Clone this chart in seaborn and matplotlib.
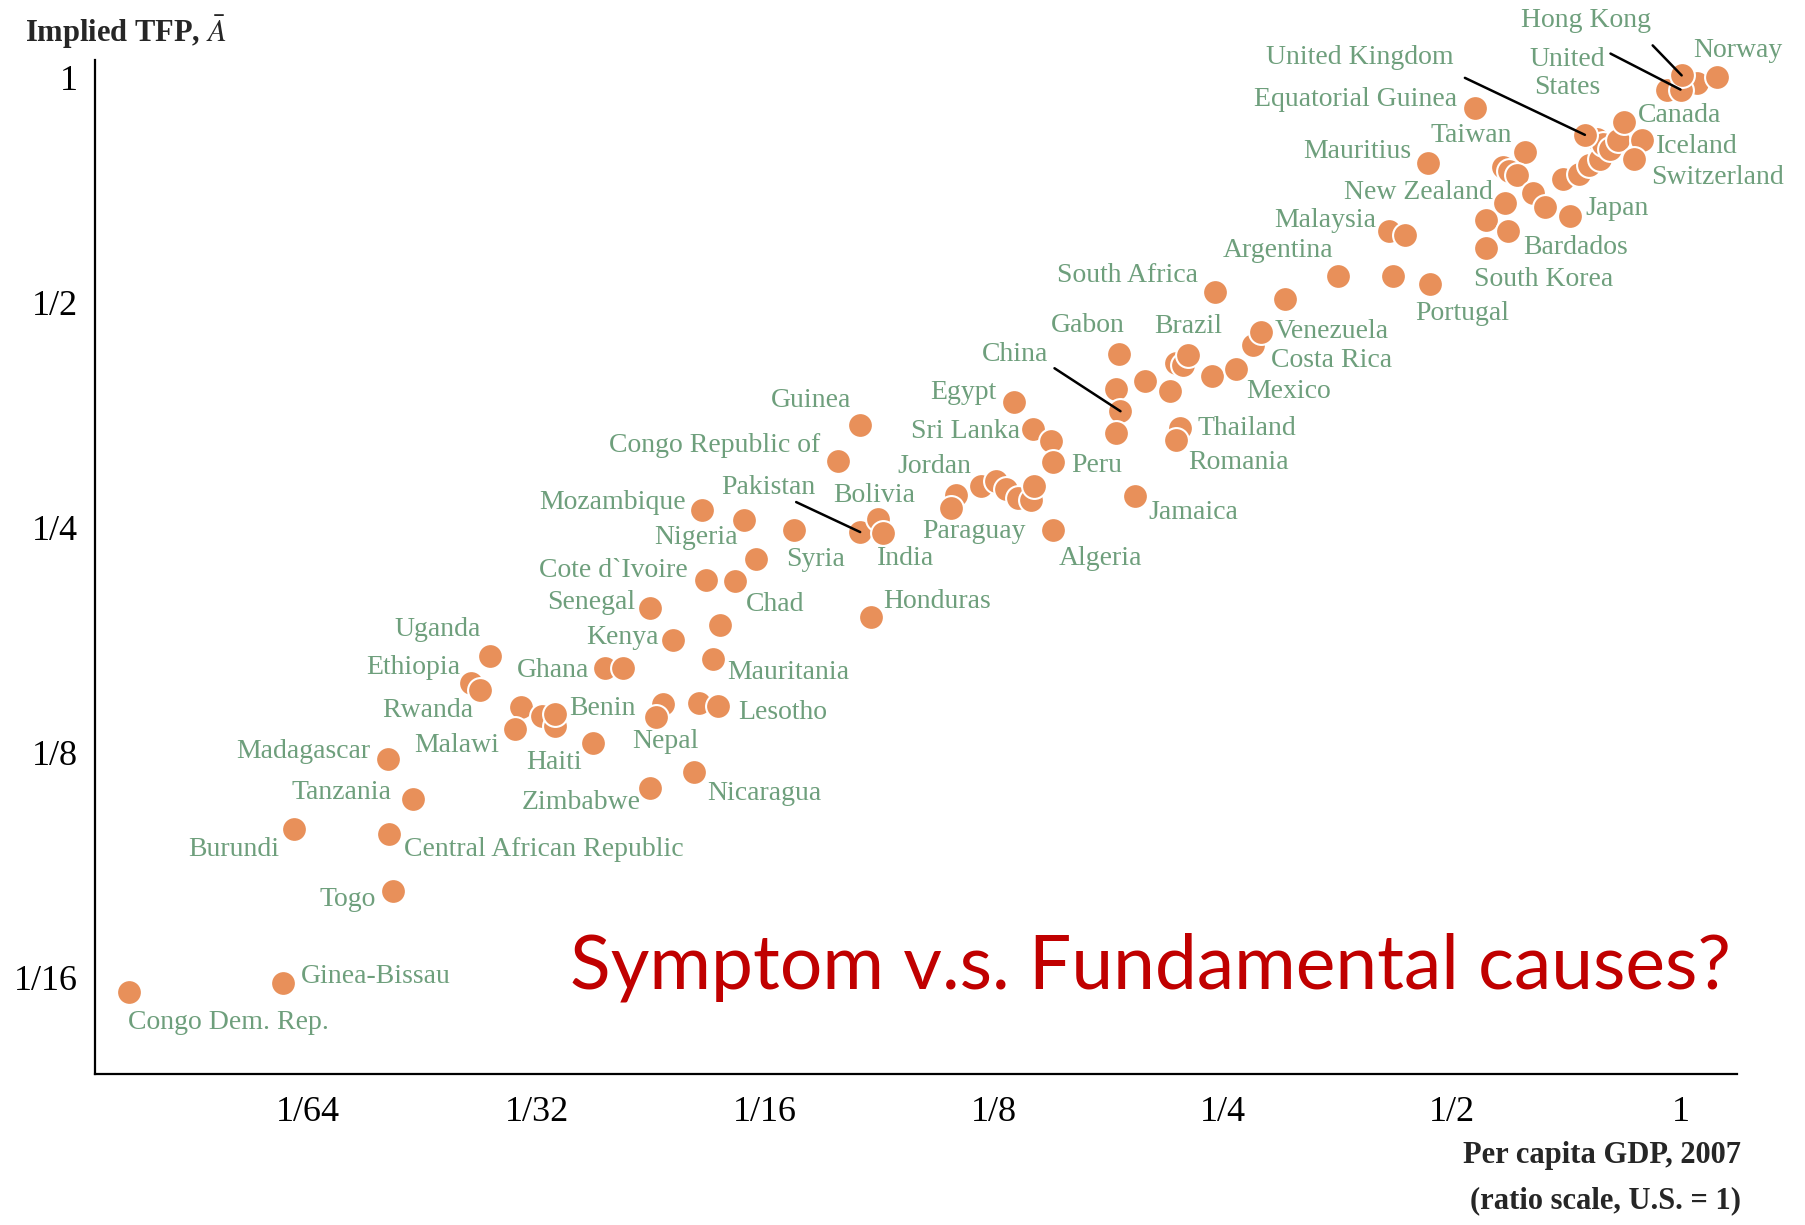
import matplotlib
matplotlib.use("Agg")
import matplotlib.pyplot as plt
from matplotlib.ticker import NullLocator
import seaborn as sns
import pandas as pd

# Per capita GDP 2007 (US = 1) and implied TFP
country = [
    "Congo Dem. Rep.", "Ginea-Bissau", "Burundi", "Togo", "Central African Republic",
    "Tanzania", "Madagascar", "Uganda", "Ethiopia", "Rwanda",
    "", "Malawi", "", "", "Benin",
    "Haiti", "Ghana", "", "Kenya", "Senegal",
    "", "Nepal", "", "Lesotho", "Zimbabwe",
    "Nicaragua", "Mauritania", "", "Cote d`Ivoire", "Chad",
    "", "Nigeria", "Mozambique", "Syria", "Pakistan",
    "Bolivia", "India", "Congo Republic of", "Guinea", "Honduras",
    "Egypt", "Sri Lanka", "", "Peru", "Algeria",
    "", "Paraguay", "Jordan", "", "",
    "", "", "", "Jamaica", "Gabon",
    "", "", "China", "", "",
    "", "", "Brazil", "", "Mexico",
    "Costa Rica", "Venezuela", "Thailand", "Romania", "South Africa",
    "", "Argentina", "", "Portugal", "Malaysia",
    "", "Mauritius", "Equatorial Guinea", "Taiwan", "",
    "New Zealand", "", "", "", "Japan",
    "", "", "Bardados", "South Korea", "",
    "", "", "", "", "",
    "", "", "United Kingdom", "Canada", "Iceland",
    "Switzerland", "", "", "United States", "Hong Kong",
    "Norway",
]
gdp = [
    0.0091, 0.0145, 0.0150, 0.0202, 0.0200,
    0.0215, 0.0199, 0.0271, 0.0256, 0.0263,
    0.0298, 0.0293, 0.0318, 0.0330, 0.0330,
    0.0371, 0.0384, 0.0406, 0.0473, 0.0441,
    0.0458, 0.0449, 0.0511, 0.0541, 0.0441,
    0.0503, 0.0534, 0.0544, 0.0522, 0.0570,
    0.0607, 0.0586, 0.0516, 0.0682, 0.0833,
    0.0880, 0.0893, 0.0778, 0.0832, 0.0860,
    0.1327, 0.1408, 0.1484, 0.1493, 0.1493,
    0.1114, 0.1097, 0.1202, 0.1258, 0.1297,
    0.1343, 0.1399, 0.1412, 0.1914, 0.1825,
    0.1806, 0.1972, 0.1833, 0.1806, 0.2127,
    0.2171, 0.2216, 0.2250, 0.2415, 0.2599,
    0.2739, 0.2802, 0.2193, 0.2171, 0.2442,
    0.3019, 0.3545, 0.4190, 0.4678, 0.4135,
    0.4335, 0.4652, 0.5366, 0.6246, 0.5839,
    0.5950, 0.6088, 0.6391, 0.6625, 0.7145,
    0.5876, 0.5552, 0.5921, 0.5552, 0.7012,
    0.7356, 0.7590, 0.7830, 0.7755, 0.7912,
    0.8083, 0.8264, 0.7485, 0.8438, 0.8895,
    0.8682, 0.9592, 1.0500, 1.0000, 1.0035,
    1.1180,
]
tfp = [
    0.0597, 0.0614, 0.0985, 0.0815, 0.0970,
    0.1083, 0.1222, 0.1683, 0.1548, 0.1513,
    0.1436, 0.1341, 0.1397, 0.1355, 0.1404,
    0.1286, 0.1621, 0.1621, 0.1768, 0.1949,
    0.1448, 0.1394, 0.1455, 0.1440, 0.1120,
    0.1175, 0.1663, 0.1852, 0.2127, 0.2117,
    0.2263, 0.2558, 0.2639, 0.2481, 0.2462,
    0.2561, 0.2455, 0.3061, 0.3422, 0.1896,
    0.3680, 0.3384, 0.3256, 0.3054, 0.2481,
    0.2763, 0.2652, 0.2836, 0.2880, 0.2807,
    0.2736, 0.2721, 0.2836, 0.2749, 0.4266,
    0.3826, 0.3918, 0.3572, 0.3340, 0.3800,
    0.4144, 0.4124, 0.4251, 0.3978, 0.4070,
    0.4377, 0.4560, 0.3392, 0.3274, 0.5151,
    0.5052, 0.5423, 0.5419, 0.5293, 0.6229,
    0.6152, 0.7668, 0.9087, 0.7945, 0.7584,
    0.7480, 0.7397, 0.7003, 0.6699, 0.6526,
    0.6793, 0.6445, 0.6229, 0.5897, 0.7304,
    0.7423, 0.7626, 0.7760, 0.8270, 0.8140,
    0.8011, 0.8230, 0.8368, 0.8694, 0.8242,
    0.7760, 0.9620, 0.9820, 0.9620, 1.0050,
    1.0000,
]

x_ticks = [1/64, 1/32, 1/16, 1/8, 1/4, 1/2, 1]
x_tick_labels = ["1/64", "1/32", "1/16", "1/8", "1/4", "1/2", "1"]
y_ticks = [1/16, 1/8, 1/4, 1/2, 1]
y_tick_labels = ["1/16", "1/8", "1/4", "1/2", "1"]

# label placement: offset in pixels from the dot, horizontal alignment
label_pos = {
    "Congo Dem. Rep.": (-1, -30, "left"),
    "Ginea-Bissau": (18, 6, "left"),
    "Burundi": (-15, -20, "right"),
    "Togo": (-17, -8, "right"),
    "Central African Republic": (15, -15, "left"),
    "Tanzania": (-22, 6, "right"),
    "Madagascar": (-17, 8, "right"),
    "Uganda": (-9, 26, "right"),
    "Ethiopia": (-10, 15, "right"),
    "Rwanda": (-6, -20, "right"),
    "Malawi": (-16, -16, "right"),
    "Ghana": (-15, -3, "right"),
    "Benin": (15, 6, "left"),
    "Haiti": (-11, -20, "right"),
    "Zimbabwe": (-10, -15, "right"),
    "Nepal": (9, -25, "center"),
    "Kenya": (-15, 2, "right"),
    "Senegal": (-15, 5, "right"),
    "Nicaragua": (14, -21, "left"),
    "Mauritania": (14, -13, "left"),
    "Lesotho": (20, -6, "left"),
    "Chad": (11, -23, "left"),
    "Cote d`Ivoire": (-18, 9, "right"),
    "Nigeria": (-6, -18, "right"),
    "Mozambique": (-16, 7, "right"),
    "Pakistan": (-45, 45, "right"),
    "Syria": (-8, -30, "left"),
    "Bolivia": (-45, 24, "left"),
    "India": (-6, -26, "left"),
    "Congo Republic of": (-17, 16, "right"),
    "Guinea": (-9, 25, "right"),
    "Honduras": (13, 15, "left"),
    "Egypt": (-17, 9, "right"),
    "Sri Lanka": (-13, -3, "right"),
    "Jordan": (-10, 20, "right"),
    "Paraguay": (-29, -24, "left"),
    "Peru": (18, -3, "left"),
    "Algeria": (6, -29, "left"),
    "Jamaica": (14, -16, "left"),
    "China": (-72, 57, "right"),
    "Gabon": (6, 28, "right"),
    "Brazil": (0, 28, "center"),
    "Thailand": (18, 0, "left"),
    "Romania": (12, -23, "left"),
    "Mexico": (10, -23, "left"),
    "Costa Rica": (18, -15, "left"),
    "Venezuela": (14, 0, "left"),
    "South Africa": (-17, 17, "right"),
    "Argentina": (-5, 25, "right"),
    "Portugal": (-15, -30, "left"),
    "Malaysia": (-13, 10, "right"),
    "Mauritius": (-17, 12, "right"),
    "Equatorial Guinea": (-18, 9, "right"),
    "United Kingdom": (-131, 77, "right"),
    "Taiwan": (-13, 16, "right"),
    "New Zealand": (-16, -21, "right"),
    "Japan": (16, 7, "left"),
    "Bardados": (16, -17, "left"),
    "South Korea": (-12, -31, "left"),
    "Canada": (13, 7, "left"),
    "Iceland": (14, -7, "left"),
    "Switzerland": (17, -18, "left"),
    "Hong Kong": (-31, 55, "right"),
    "United States": (-113, 16, "center"),
    "Norway": (-24, 27, "left"),
}
# leader lines: start of the line, in pixels from the dot
leaders = {
    "United Kingdom": (-120, 57),
    "United States": (-70, 36),
    "Hong Kong": (-29, 30),
    "China": (-66, 43),
    "Pakistan": (-64, 30),
}

DOT = "#E8905A"
GREEN = "#6E9F7C"

sns.set_style("white")
plt.rcParams["font.family"] = ["Liberation Serif", "DejaVu Serif"]
plt.rcParams["mathtext.fontset"] = "stix"

df = pd.DataFrame({"country": country, "gdp": gdp, "tfp": tfp})

fig = plt.figure(figsize=(18.06, 12.25), dpi=100)
ax = fig.add_axes([0.0526, 0.1233, 0.9092, 0.8278])
sns.scatterplot(data=df, x="gdp", y="tfp", ax=ax, s=320, color=DOT,
                edgecolor="white", linewidth=1.5, zorder=3)

ax.set_xscale("log", base=2)
ax.set_yscale("log", base=2)
ax.set_xlim(2 ** -6.93, 2 ** 0.247)
ax.set_ylim(2 ** -4.43, 2 ** 0.076)
ax.set_xticks(x_ticks, x_tick_labels)
ax.set_yticks(y_ticks, y_tick_labels)
ax.xaxis.set_minor_locator(NullLocator())
ax.yaxis.set_minor_locator(NullLocator())
ax.set_xlabel("")
ax.set_ylabel("")

for side in ["top", "right"]:
    ax.spines[side].set_visible(False)
for side in ["left", "bottom"]:
    ax.spines[side].set_color("black")
    ax.spines[side].set_linewidth(1.6)
ax.tick_params(axis="both", direction="in", length=17, width=1.5,
               labelsize=26, colors="black")
ax.tick_params(axis="x", pad=16)
ax.tick_params(axis="y", pad=12)

for name, (dx, dy, ha) in label_pos.items():
    row = df[df["country"] == name].iloc[0]
    text = "United\nStates" if name == "United States" else name
    ax.annotate(text, (row["gdp"], row["tfp"]), xytext=(dx, dy),
                textcoords="offset pixels", ha=ha, va="center",
                fontsize=20, color=GREEN, linespacing=1.15, zorder=5)

for name, (dx, dy) in leaders.items():
    row = df[df["country"] == name].iloc[0]
    ax.annotate("", (row["gdp"], row["tfp"]), xytext=(dx, dy),
                textcoords="offset pixels",
                arrowprops=dict(arrowstyle="-", color="black", lw=1.8,
                                shrinkA=0, shrinkB=0), zorder=6)

fig.text(25 / 1806, 1 - 32 / 1225, r"Implied TFP, $\bar{A}$", ha="left",
         va="center", fontsize=22, fontweight="bold")
fig.text(1741 / 1806, 1 - 1155 / 1225, "Per capita GDP, 2007", ha="right",
         va="center", fontsize=22, fontweight="bold")
fig.text(1741 / 1806, 1 - 1201 / 1225, "(ratio scale, U.S. = 1)", ha="right",
         va="center", fontsize=22, fontweight="bold")

fig.text(1150 / 1806, 1 - 988 / 1225, "Symptom v.s. Fundamental causes?",
         ha="center", va="baseline", fontsize=54, color="#C00000",
         family=["Lato", "DejaVu Sans"])

fig.savefig("out.png", dpi=100)
plt.close(fig)
